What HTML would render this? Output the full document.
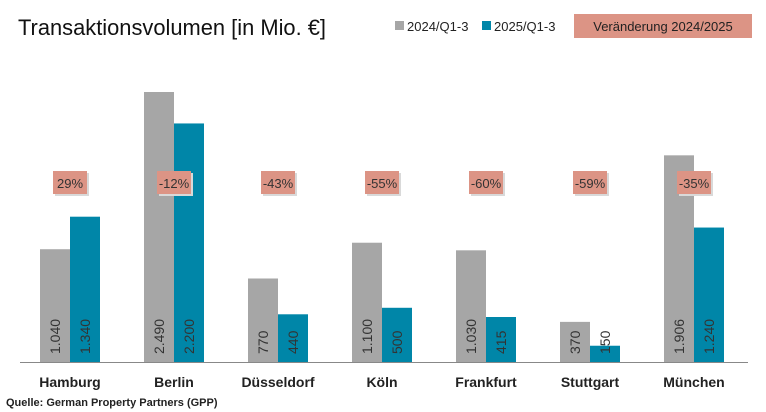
<!DOCTYPE html>
<html><head><meta charset="utf-8"><style>
body{margin:0;background:#fff;}
svg{display:block;font-family:"Liberation Sans",sans-serif;}
</style></head><body>
<svg id="chart" width="766" height="412">
<text x="18" y="35" font-size="22" fill="#111" textLength="308" lengthAdjust="spacingAndGlyphs">Transaktionsvolumen [in Mio. €]</text>
<rect x="395" y="21" width="9" height="9" fill="#a6a6a6"/>
<text x="407" y="31" font-size="13" fill="#222">2024/Q1-3</text>
<rect x="482" y="21" width="9" height="9" fill="#0086a8"/>
<text x="494" y="31" font-size="13" fill="#222">2025/Q1-3</text>
<rect x="574" y="14" width="178" height="24" fill="#dc9485"/>
<text x="663" y="31" font-size="13" fill="#222" text-anchor="middle">Veränderung 2024/2025</text>
<line x1="20" y1="362.5" x2="748" y2="362.5" stroke="#888" stroke-width="1"/>
<g id="marks"></g>
<text x="6" y="406" font-size="11" font-weight="bold" fill="#222">Quelle: German Property Partners (GPP)</text>
</svg>
<script>
const cities=["Hamburg","Berlin","Düsseldorf","Köln","Frankfurt","Stuttgart","München"];
const v2024=[1040,2490,770,1100,1030,370,1906];
const v2025=[1340,2200,440,500,415,150,1240];
const changes=["29%","-12%","-43%","-55%","-60%","-59%","-35%"];
const v2024Labels=["1.040","2.490","770","1.100","1.030","370","1.906"];
const v2025Labels=["1.340","2.200","440","500","415","150","1.240"];
const NS="http://www.w3.org/2000/svg";
const g=document.getElementById('marks');
const base=362, scale=270/2490;
const y=v=>base-v*scale;
const cx=i=>70+i*104;
function mk(t,a){const e=document.createElementNS(NS,t);for(const k in a)e.setAttribute(k,a[k]);g.appendChild(e);return e;}
cities.forEach((c,i)=>{
  const b1=mk('rect',{x:cx(i)-30,y:y(v2024[i]),width:30,height:base-y(v2024[i]),fill:'#a6a6a6'});
  
  
  const b2=mk('rect',{x:cx(i),y:y(v2025[i]),width:30,height:base-y(v2025[i]),fill:'#0086a8'});
  
  
  [[cx(i)-15,v2024Labels[i]],[cx(i)+15,v2025Labels[i]]].forEach(([x,t],k)=>{
    const tx=mk('text',{x:0,y:0,'font-size':14,fill:'#333',transform:`translate(${x+5},${base-8}) rotate(-90)`});
    tx.textContent=t;
    
    
  });
  const sh=mk('rect',{x:cx(i)-15,y:173,width:34,height:23,fill:'#d9d9d9'});
  
  
  const bx=mk('rect',{x:cx(i)-17,y:171,width:34,height:23,fill:'#dc9485'});
  
  
  const ct=mk('text',{x:cx(i),y:188,'font-size':13,fill:'#333','text-anchor':'middle'});
  ct.textContent=changes[i];
  
  
  const lt=mk('text',{x:cx(i),y:387,'font-size':14,'font-weight':'bold',fill:'#222','text-anchor':'middle'});
  lt.textContent=c;
  
  
});
</script>
</body></html>
